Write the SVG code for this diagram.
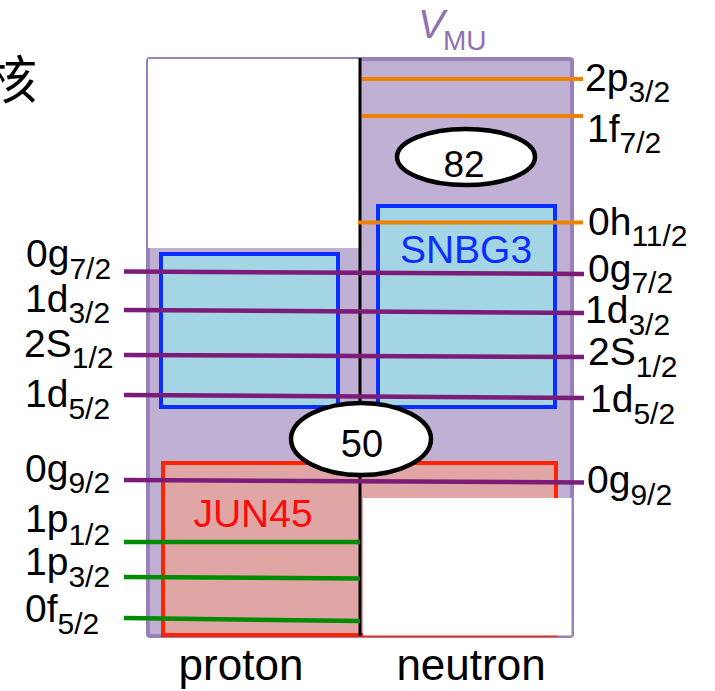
<svg xmlns="http://www.w3.org/2000/svg" width="715" height="691" viewBox="0 0 715 691">
<style>
text{font-family:"Liberation Sans",Arial,sans-serif;fill:#000}
.lb{font-size:39px}
.sb{font-size:30px}
.or{stroke:#EE8100;stroke-width:4;fill:none}
.pu{stroke:#7A1C78;stroke-width:4.5;fill:none}
.gr{stroke:#008C00;stroke-width:4.5;fill:none}
.ell{fill:#fff;stroke:#000;stroke-width:4.5}
</style>
<rect width="715" height="691" fill="#fff"/>
<text x="-15" y="99" style="font-family:'Noto Sans CJK SC','Noto Sans CJK JP',sans-serif;font-size:52px">核</text>
<g id="vmu">
<rect x="148" y="59" width="424" height="577" rx="2" fill="#C0B0D3" stroke="#9A80B8" stroke-width="4"/>
<text x="418" y="38" style="font-size:40px;font-style:italic;fill:#8E72B2">V</text>
<text x="443" y="50" style="font-size:28px;fill:#8E72B2">MU</text>
</g>
<rect x="148" y="59" width="211" height="189" fill="#fff"/>
<g id="snbg3">
<rect x="161" y="254" width="177" height="153" fill="#A3D5E4" stroke="#0A2EFF" stroke-width="4"/>
<rect x="378" y="206" width="177" height="201" fill="#A3D5E4" stroke="#0A2EFF" stroke-width="4"/>
<text x="466" y="263" text-anchor="middle" style="font-size:39px;fill:#0A2EFF">SNBG3</text>
</g>
<g id="jun45">
<rect x="163" y="463" width="393" height="172" fill="#E0A6A5" stroke="#FF2400" stroke-width="4"/>
<text x="253" y="527" text-anchor="middle" style="font-size:39px;fill:#FF0A0A">JUN45</text>
</g>
<rect x="363" y="498" width="208.5" height="137.5" fill="#fff"/>
<line x1="360" y1="58" x2="360" y2="636" stroke="#000" stroke-width="3"/>
<g id="orbitals">
<line class="or" x1="362" y1="79" x2="583" y2="79"/>
<line class="or" x1="362" y1="116" x2="583" y2="116"/>
<line class="or" x1="358" y1="222.5" x2="583" y2="222.5"/>
<line class="pu" x1="124" y1="271.5" x2="584" y2="274"/>
<line class="pu" x1="124" y1="310" x2="584" y2="313"/>
<line class="pu" x1="124" y1="355" x2="584" y2="357"/>
<line class="pu" x1="124" y1="395" x2="584" y2="398"/>
<line class="pu" x1="124" y1="480" x2="584" y2="482.5"/>
<line class="gr" x1="124" y1="542" x2="360" y2="542"/>
<line class="gr" x1="124" y1="577" x2="360" y2="578.5"/>
<line class="gr" x1="124" y1="618" x2="360" y2="621"/>
</g>
<g id="magic82">
<ellipse class="ell" cx="466" cy="157" rx="69" ry="28"/>
<text x="464" y="177" text-anchor="middle" style="font-size:37px">82</text>
</g>
<g id="magic50">
<ellipse class="ell" cx="361" cy="439" rx="70" ry="36"/>
<text x="362" y="457" text-anchor="middle" style="font-size:38px">50</text>
</g>
<g id="labels-left">
<text class="lb" x="26" y="267">0g<tspan class="sb" dy="12">7/2</tspan></text>
<text class="lb" x="25" y="312">1d<tspan class="sb" dy="11">3/2</tspan></text>
<text class="lb" x="24" y="357">2S<tspan class="sb" dy="11">1/2</tspan></text>
<text class="lb" x="25" y="407">1d<tspan class="sb" dy="12">5/2</tspan></text>
<text class="lb" x="25" y="482">0g<tspan class="sb" dy="11">9/2</tspan></text>
<text class="lb" x="25" y="532">1p<tspan class="sb" dy="13">1/2</tspan></text>
<text class="lb" x="25" y="575">1p<tspan class="sb" dy="12">3/2</tspan></text>
<text class="lb" x="25" y="622">0f<tspan class="sb" dy="12">5/2</tspan></text>
</g>
<g id="labels-right">
<text class="lb" x="585" y="91">2p<tspan class="sb" dy="11">3/2</tspan></text>
<text class="lb" x="587" y="142">1f<tspan class="sb" dy="11">7/2</tspan></text>
<text class="lb" x="588" y="235">0h<tspan class="sb" dy="11">11/2</tspan></text>
<text class="lb" x="588" y="282">0g<tspan class="sb" dy="11">7/2</tspan></text>
<text class="lb" x="585" y="323">1d<tspan class="sb" dy="12">3/2</tspan></text>
<text class="lb" x="588" y="365">2S<tspan class="sb" dy="12">1/2</tspan></text>
<text class="lb" x="590" y="412">1d<tspan class="sb" dy="12">5/2</tspan></text>
<text class="lb" x="587" y="493">0g<tspan class="sb" dy="12">9/2</tspan></text>
</g>
<g id="axis-labels">
<text x="241" y="680" text-anchor="middle" style="font-size:44px">proton</text>
<text x="471" y="680" text-anchor="middle" style="font-size:44px">neutron</text>
</g>
</svg>
